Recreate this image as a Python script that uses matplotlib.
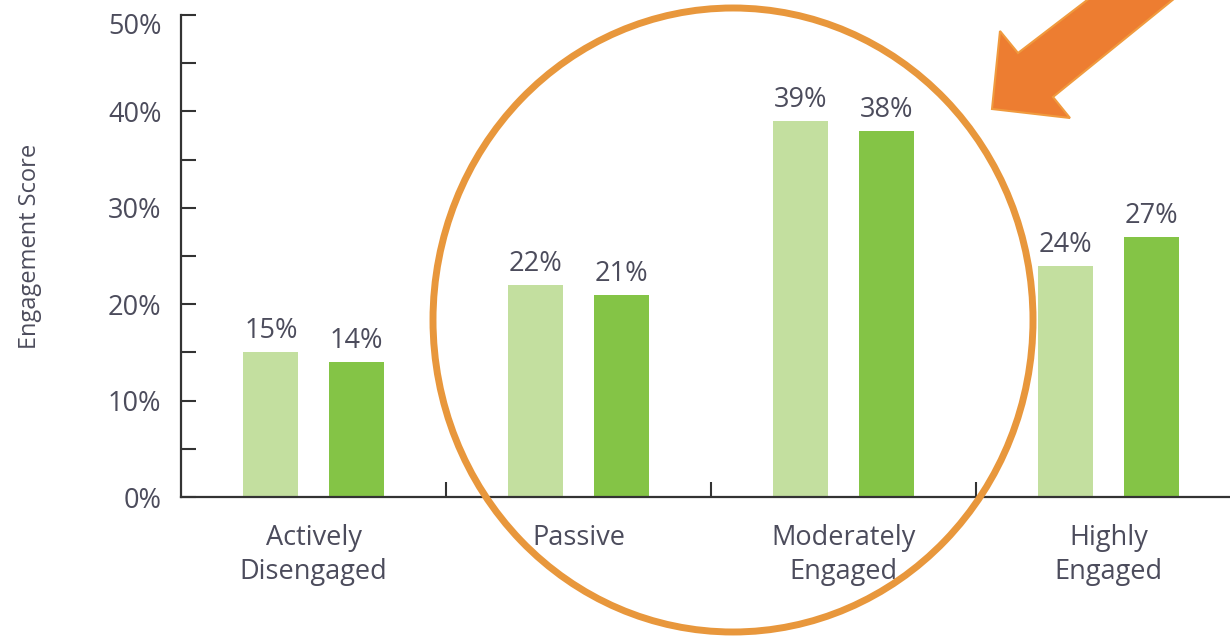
import matplotlib
matplotlib.use("Agg")
import matplotlib.pyplot as plt
from matplotlib.patches import Ellipse, Polygon
from matplotlib.transforms import ScaledTranslation
import numpy as np

categories = ["Actively\nDisengaged", "Passive", "Moderately\nEngaged", "Highly\nEngaged"]
series_a = [15, 22, 39, 24]
series_b = [14, 21, 38, 27]
yticks = [0, 10, 20, 30, 40, 50]
ytick_labels = ["0%", "10%", "20%", "30%", "40%", "50%"]

plt.rcParams['font.family'] = ['Open Sans', 'DejaVu Sans']
W, H = 1230, 638
fig = plt.figure(figsize=(12.3, 6.38), dpi=100)
ax_left, ax_right, ax_bottom, ax_top = 181, 1241, 497, 15
ax = fig.add_axes([ax_left / W, 1 - ax_bottom / H, (ax_right - ax_left) / W, (ax_bottom - ax_top) / H])

text_color = '#4c4c5c'
light = '#c3df9f'
dark = '#84c446'
fs = 19.5
x = np.arange(len(categories))
bw = 0.207
off = 0.161
b1 = ax.bar(x - off, series_a, bw, color=light, zorder=2)
b2 = ax.bar(x + off, series_b, bw, color=dark, zorder=2)
for bars, vals in ((b1, series_a), (b2, series_b)):
    for r, v in zip(bars, vals):
        ax.annotate(f"{v}%", (r.get_x() + r.get_width() / 2, v), xytext=(0, 5),
                    textcoords='offset points', ha='center', va='bottom',
                    fontsize=fs, color=text_color)

ax.set_xlim(-0.5, 3.5)
ax.set_ylim(0, 50)
ax.set_yticks(yticks)
ax.set_yticklabels(ytick_labels, fontsize=fs, color=text_color)
ax.set_yticks(np.arange(5, 50, 10), minor=True)
ax.tick_params(axis='y', which='both', direction='in', length=11, width=1.5, color='#333333', pad=14)
ax.set_xticks(x)
ax.set_xticklabels(categories, fontsize=fs, color=text_color, linespacing=1.3)
ax.tick_params(axis='x', which='major', length=0, pad=19.5)
ax.set_xticks(np.arange(0.5, 3.5, 1), minor=True)
ax.tick_params(axis='x', which='minor', direction='in', length=11, width=1.5, color='#333333')
for s in ['top', 'right']:
    ax.spines[s].set_visible(False)
for s in ['left', 'bottom']:
    ax.spines[s].set_linewidth(1.6)
    ax.spines[s].set_color('#333333')
ax.set_ylabel("Engagement Score", fontsize=17, color=text_color)
ax.yaxis.set_label_coords(-0.131, 0.52)

# top label sits slightly lower in the original
top_lbl = ax.yaxis.get_major_ticks()[-1].label1
top_lbl.set_transform(top_lbl.get_transform() + ScaledTranslation(0, -0.09, fig.dpi_scale_trans))

def fxy(px, py):
    return (px / W, 1 - py / H)

ell = Ellipse(fxy(733, 320), 600 / W, 624 / H, transform=fig.transFigure,
              fill=False, edgecolor='#e8973c', linewidth=5, zorder=10)
fig.add_artist(ell)

arrow_px = [(1095, -6), (1018, 53), (1000, 31), (992, 109), (1070, 118), (1053, 97), (1180, -6)]
arrow = Polygon([fxy(*p) for p in arrow_px], closed=True, transform=fig.transFigure,
                facecolor='#ed7d31', edgecolor='#f09a3e', linewidth=1.5, zorder=11)
fig.add_artist(arrow)

fig.savefig("out.png", dpi=100)
